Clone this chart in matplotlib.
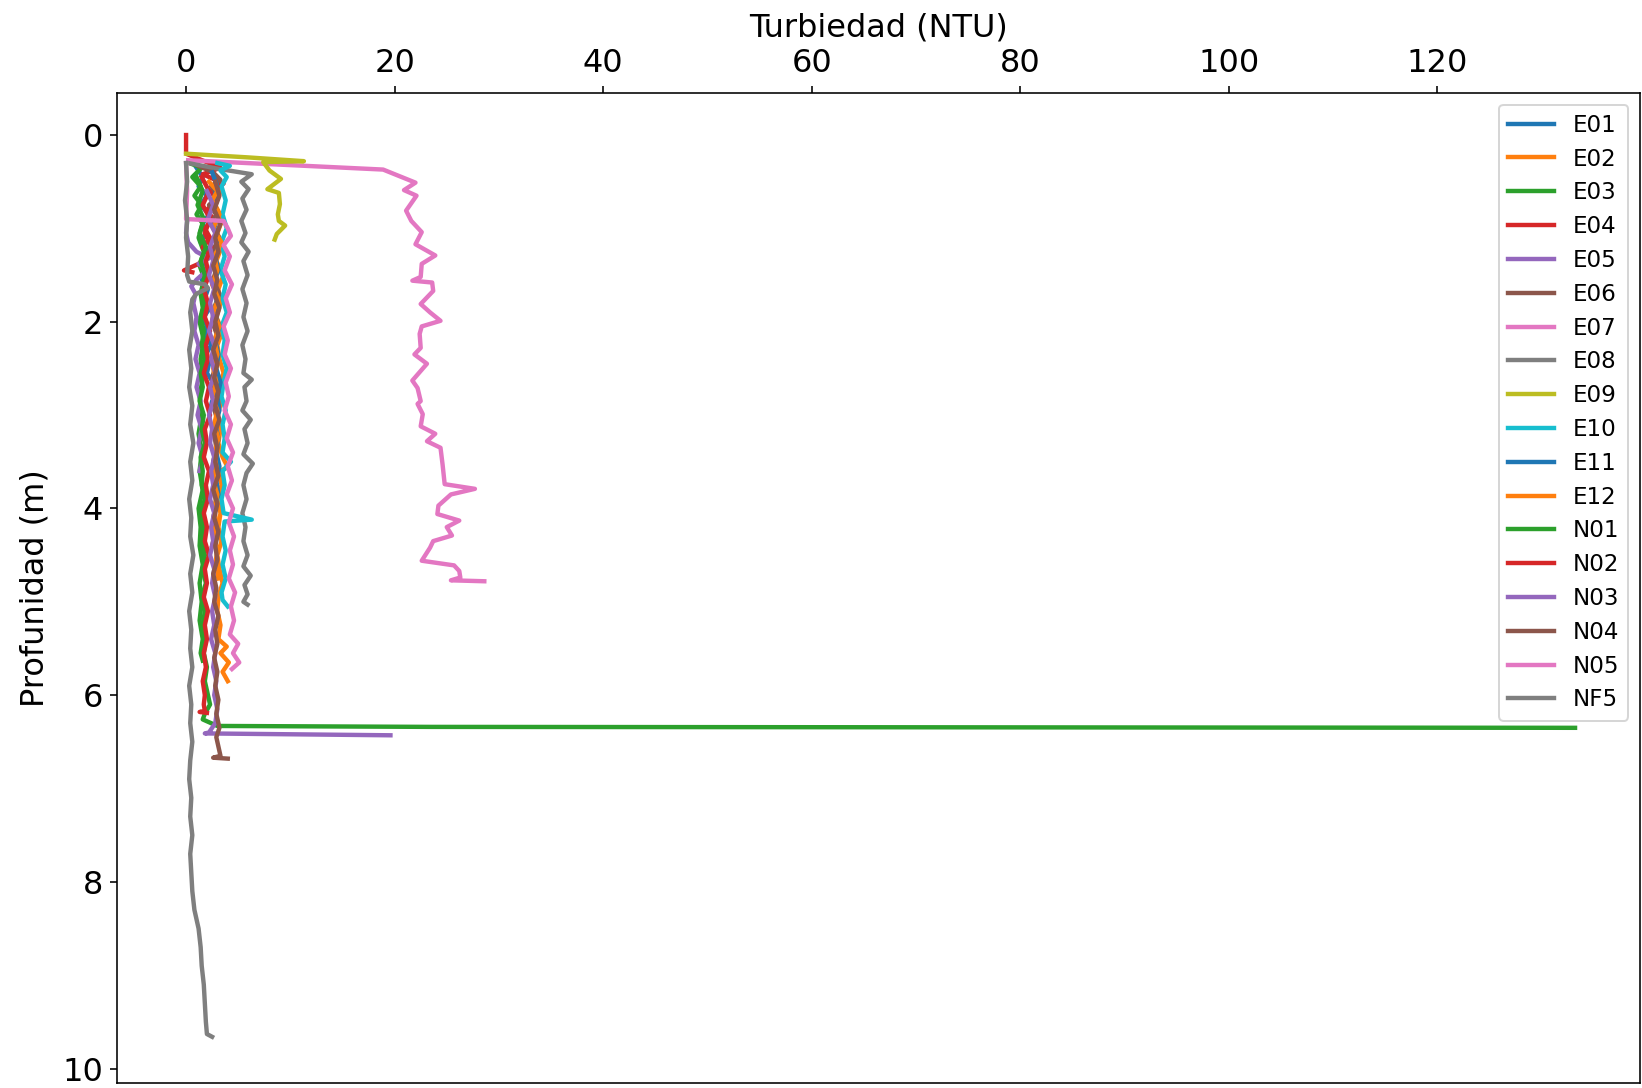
from __future__ import annotations

import matplotlib

matplotlib.use("Agg")

import matplotlib.pyplot as plt


# (profundidad m, turbiedad NTU)
E01 = [(0.35, 1.0), (0.45, 1.6), (0.55, 1.2), (0.65, 2.0), (0.75, 1.4), (0.85, 2.2), (0.95, 1.6),
       (1.05, 1.9), (1.15, 1.4), (1.25, 2.3), (1.35, 1.7), (1.45, 2.0), (1.55, 1.5), (1.65, 2.1),
       (1.75, 1.8), (1.85, 2.3), (1.95, 1.7), (2.05, 2.0), (2.15, 1.8), (2.25, 2.4), (2.35, 1.9),
       (2.45, 2.2), (2.55, 2.0), (2.65, 2.6), (2.75, 3.3), (2.85, 2.5), (2.95, 2.3)]
E02 = [(0.45, 2.9), (0.6, 3.3), (0.75, 2.8), (0.9, 3.5), (1.05, 3.0), (1.2, 3.4), (1.35, 2.9),
       (1.5, 3.6), (1.65, 3.1), (1.8, 3.3), (1.95, 2.9), (2.1, 3.5), (2.25, 3.0), (2.4, 3.2),
       (2.55, 3.6), (2.7, 3.1), (2.85, 3.4), (3.0, 3.0), (3.15, 3.3), (3.3, 3.1), (3.45, 3.5),
       (3.56, 4.0), (3.6, 3.2), (3.75, 3.4), (3.9, 3.0), (4.05, 3.3), (4.2, 3.1), (4.35, 3.4),
       (4.5, 3.0), (4.65, 3.2), (4.8, 3.5), (4.95, 3.1), (5.1, 3.0), (5.25, 3.3), (5.4, 3.1),
       (5.48, 3.9), (5.55, 3.3), (5.65, 4.1), (5.75, 3.5), (5.85, 4.0)]
E03 = [(0.30, 0.3), (0.35, 1.5), (0.45, 0.6), (0.55, 1.4), (0.65, 0.8), (0.75, 1.5), (0.85, 1.0),
       (0.95, 1.6), (1.1, 1.2), (1.25, 1.7), (1.4, 1.3), (1.55, 1.8), (1.7, 1.4), (1.85, 1.6),
       (2.0, 1.3), (2.2, 1.7), (2.4, 1.4), (2.6, 1.6), (2.8, 1.3), (3.0, 1.5), (3.2, 1.2),
       (3.4, 1.5), (3.6, 1.3), (3.8, 1.6), (4.0, 1.2), (4.2, 1.4), (4.4, 1.3), (4.6, 1.6),
       (4.8, 1.3), (5.0, 1.5), (5.2, 1.3), (5.4, 1.6), (5.55, 1.4), (5.63, 1.6)]
E04 = [(0.0, 0.0), (0.2, 0.0), (0.35, 3.3), (0.42, 1.6), (0.52, 3.6), (0.6, 2.4), (0.7, 2.9),
       (0.8, 2.0), (0.9, 2.6), (1.0, 1.8), (1.1, 2.3), (1.2, 1.6), (1.3, 2.0), (1.38, 1.2),
       (1.45, -0.2), (1.47, 0.6)]
E05 = [(0.93, 0.1), (1.05, 0.0), (1.15, 0.2), (1.25, 1.0), (1.32, 2.2), (1.38, 1.2), (1.45, 2.0),
       (1.55, 1.0), (1.62, 0.5), (1.7, 0.9), (1.8, 0.7), (1.95, 1.0), (2.1, 0.8), (2.25, 1.2),
       (2.4, 0.9), (2.55, 1.3), (2.7, 1.0), (2.85, 1.4), (3.0, 1.1), (3.15, 1.5), (3.3, 1.2),
       (3.45, 1.6), (3.6, 1.3)]
E06 = [(0.33, 1.2), (0.4, 2.6), (0.48, 3.3), (0.55, 2.4), (0.65, 3.1), (0.75, 2.2), (0.85, 2.9),
       (0.95, 2.4), (1.1, 3.2), (1.25, 2.5), (1.4, 3.0), (1.55, 2.6), (1.7, 3.2), (1.85, 2.7),
       (2.0, 2.5), (2.15, 3.0), (2.3, 2.6), (2.45, 2.9), (2.6, 2.5), (2.75, 2.8), (2.9, 2.6),
       (3.05, 3.0), (3.2, 2.7), (3.35, 2.9), (3.5, 2.6), (3.65, 3.0), (3.8, 2.7), (3.95, 2.9),
       (4.1, 2.6), (4.25, 2.8), (4.4, 2.5)]
E07 = [(0.27, 0.2), (0.37, 18.9), (0.51, 22.0), (0.59, 20.9), (0.65, 22.1), (0.81, 21.1),
       (0.92, 21.6), (1.04, 22.6), (1.17, 22.0), (1.29, 23.9), (1.38, 22.6), (1.52, 22.5),
       (1.56, 21.7), (1.58, 23.6), (1.67, 23.7), (1.81, 22.5), (1.90, 23.4), (1.99, 24.4),
       (2.05, 22.6), (2.13, 22.4), (2.28, 22.5), (2.35, 21.9), (2.45, 23.1), (2.63, 21.7),
       (2.71, 22.2), (2.85, 22.5), (2.88, 22.2), (2.99, 22.7), (3.12, 22.5), (3.20, 23.9),
       (3.28, 23.1), (3.35, 24.4), (3.53, 24.6), (3.74, 24.8), (3.79, 27.7), (3.85, 25.4),
       (3.97, 24.2), (4.06, 24.1), (4.13, 26.2), (4.20, 25.0), (4.29, 25.5), (4.35, 23.7),
       (4.42, 23.4), (4.56, 22.6), (4.61, 25.7), (4.67, 26.2), (4.74, 26.3), (4.77, 25.4),
       (4.78, 28.6)]
E08 = [(0.30, 0.2), (0.36, 3.0), (0.42, 6.3), (0.5, 5.3), (0.58, 6.0), (0.68, 5.4), (0.8, 5.8),
       (0.92, 5.3), (1.05, 5.7), (1.15, 5.3), (1.25, 6.0), (1.35, 5.5), (1.5, 5.9), (1.65, 5.4),
       (1.8, 5.8), (1.95, 5.5), (2.1, 5.9), (2.25, 5.4), (2.4, 5.7), (2.55, 5.5), (2.62, 6.3),
       (2.7, 5.6), (2.85, 5.8), (2.95, 5.4), (3.05, 6.2), (3.15, 5.6), (3.3, 5.9), (3.42, 5.5),
       (3.52, 6.4), (3.62, 5.8), (3.75, 5.5), (3.9, 5.8), (4.05, 5.4), (4.2, 5.7), (4.35, 5.5),
       (4.5, 5.9), (4.62, 5.5), (4.72, 6.2), (4.82, 5.6), (4.92, 5.9), (5.0, 5.5), (5.03, 5.9)]
E09 = [(0.2, 0.0), (0.24, 6.0), (0.28, 11.3), (0.29, 7.4), (0.38, 8.0), (0.47, 9.1), (0.58, 7.8),
       (0.62, 8.9), (0.74, 9.0), (0.85, 8.8), (0.92, 8.9), (0.97, 9.5), (1.06, 8.7), (1.12, 8.5)]
E10 = [(0.3, 3.0), (0.33, 4.2), (0.38, 3.3), (0.45, 3.9), (0.55, 3.4), (0.7, 3.8), (0.85, 3.5),
       (1.0, 3.9), (1.15, 3.4), (1.3, 3.7), (1.45, 3.3), (1.6, 3.8), (1.75, 3.5), (1.9, 3.9),
       (2.05, 3.4), (2.2, 3.7), (2.35, 3.5), (2.5, 3.9), (2.65, 3.6), (2.8, 3.4), (2.95, 3.8),
       (3.1, 3.5), (3.25, 3.7), (3.4, 3.5), (3.5, 4.3), (3.6, 3.5), (3.75, 3.7), (3.9, 3.4),
       (4.05, 3.6), (4.12, 6.3), (4.14, 3.7), (4.3, 3.5), (4.45, 3.8), (4.6, 3.5), (4.75, 3.8),
       (4.9, 3.4), (4.98, 3.5), (5.05, 4.0)]
E11 = [(0.4, 2.5), (0.55, 3.0), (0.7, 2.6), (0.85, 3.1), (1.0, 2.7), (1.15, 3.2), (1.3, 2.8),
       (1.45, 3.1), (1.6, 2.6), (1.75, 3.0), (1.9, 2.7), (2.05, 3.2), (2.2, 2.8), (2.35, 3.1),
       (2.5, 2.9), (2.65, 3.3), (2.8, 3.0), (2.95, 3.2), (3.1, 2.8), (3.25, 3.1), (3.4, 2.9),
       (3.55, 3.2), (3.7, 2.9), (3.85, 3.1), (3.95, 2.8)]
E12 = [(0.5, 2.2), (0.6, 3.0), (0.7, 2.5), (0.85, 3.2), (1.0, 2.6), (1.15, 3.4), (1.3, 2.7),
       (1.45, 3.0), (1.6, 2.5), (1.75, 3.1), (1.9, 2.6), (2.05, 3.2), (2.2, 2.7), (2.35, 3.0),
       (2.5, 2.6), (2.65, 2.9), (2.8, 2.5), (2.95, 3.0), (3.1, 2.7), (3.25, 3.1), (3.4, 2.7),
       (3.55, 2.9), (3.7, 2.6), (3.85, 3.0), (4.0, 2.7), (4.15, 2.9), (4.3, 2.6), (4.45, 3.0),
       (4.6, 2.8), (4.75, 3.1)]
N01 = [(0.45, 1.0), (0.6, 1.6), (0.75, 1.1), (0.9, 1.7), (1.05, 1.3), (1.2, 1.9), (1.35, 1.4),
       (1.5, 1.8), (1.65, 1.5), (1.8, 1.9), (1.95, 1.4), (2.1, 1.7), (2.25, 1.5), (2.4, 1.8),
       (2.55, 1.4), (2.7, 1.6), (2.85, 1.3), (3.0, 1.7), (3.15, 1.5), (3.3, 1.8), (3.45, 1.4),
       (3.6, 1.6), (3.75, 1.5), (3.9, 1.8), (4.05, 1.4), (4.2, 1.7), (4.35, 1.5), (4.5, 1.8),
       (4.65, 1.6), (4.8, 1.9), (4.95, 1.5), (5.1, 1.8), (5.25, 1.6), (5.4, 1.9), (5.55, 1.7),
       (5.7, 2.0), (5.85, 1.8), (6.0, 2.1), (6.1, 2.3), (6.2, 1.8), (6.26, 1.6), (6.3, 2.4),
       (6.33, 3.0), (6.34, 23.5), (6.35, 133.2)]
N02 = [(0.45, 1.5), (0.6, 2.2), (0.75, 1.6), (0.9, 2.3), (1.05, 1.8), (1.2, 2.4), (1.35, 1.9),
       (1.5, 2.2), (1.65, 1.7), (1.8, 2.1), (1.95, 1.8), (2.1, 2.3), (2.25, 1.9), (2.4, 2.1),
       (2.55, 1.7), (2.7, 2.2), (2.85, 1.9), (3.0, 2.3), (3.15, 1.8), (3.3, 2.0), (3.45, 1.7),
       (3.6, 2.2), (3.75, 1.9), (3.9, 2.1), (4.05, 1.7), (4.2, 2.0), (4.35, 1.8), (4.5, 2.2),
       (4.65, 1.8), (4.8, 2.0), (4.95, 1.7), (5.1, 2.1), (5.25, 1.8), (5.4, 2.0), (5.55, 1.7),
       (5.7, 1.9), (5.85, 1.6), (6.0, 1.8), (6.1, 1.7), (6.17, 1.8), (6.18, 1.3), (6.19, 2.0)]
N03 = [(0.6, 2.0), (0.75, 2.6), (0.9, 2.1), (1.05, 2.8), (1.2, 2.3), (1.35, 2.6), (1.5, 2.2),
       (1.65, 2.7), (1.8, 2.3), (1.95, 2.6), (2.1, 2.2), (2.25, 2.7), (2.4, 2.4), (2.55, 2.8),
       (2.7, 2.3), (2.85, 2.6), (3.0, 2.2), (3.15, 2.5), (3.3, 2.3), (3.45, 2.7), (3.6, 2.4),
       (3.75, 2.6), (3.9, 2.3), (4.05, 2.7), (4.2, 2.4), (4.35, 2.6), (4.5, 2.3), (4.65, 2.7),
       (4.8, 2.5), (4.95, 2.8), (5.1, 2.5), (5.25, 2.7), (5.4, 2.4), (5.55, 2.8), (5.7, 2.6),
       (5.85, 2.9), (6.0, 2.7), (6.15, 3.0), (6.3, 2.8), (6.4, 2.2), (6.41, 1.8), (6.43, 19.6)]
N04 = [(0.5, 2.8), (0.65, 3.2), (0.8, 2.7), (0.95, 3.3), (1.1, 2.8), (1.25, 3.1), (1.4, 2.6),
       (1.55, 3.0), (1.7, 2.7), (1.85, 3.2), (2.0, 2.8), (2.15, 3.1), (2.3, 2.6), (2.45, 3.0),
       (2.6, 2.7), (2.75, 3.1), (2.9, 2.8), (3.05, 3.2), (3.2, 2.7), (3.35, 3.0), (3.5, 2.8),
       (3.65, 3.1), (3.8, 2.6), (3.95, 3.0), (4.1, 2.7), (4.25, 3.1), (4.4, 2.8), (4.55, 3.0),
       (4.7, 2.6), (4.85, 2.9), (5.0, 2.7), (5.15, 3.1), (5.3, 2.8), (5.45, 3.0), (5.6, 2.7),
       (5.75, 3.0), (5.9, 2.8), (6.05, 3.1), (6.2, 2.9), (6.35, 3.2), (6.45, 2.9), (6.55, 3.1),
       (6.65, 3.3), (6.67, 2.6), (6.68, 4.0)]
N05 = [(0.3, 0.0), (0.6, 0.1), (0.9, 0.0), (0.92, 3.6), (1.0, 4.0), (1.08, 4.3), (1.18, 3.6),
       (1.3, 4.2), (1.45, 3.7), (1.6, 4.4), (1.75, 3.8), (1.9, 4.2), (2.05, 3.6), (2.2, 4.0),
       (2.35, 3.7), (2.5, 4.3), (2.65, 3.8), (2.8, 4.1), (2.95, 3.7), (3.1, 4.3), (3.25, 3.9),
       (3.4, 4.5), (3.55, 4.0), (3.7, 4.4), (3.85, 3.9), (4.0, 4.5), (4.15, 4.1), (4.3, 4.6),
       (4.45, 4.2), (4.6, 4.5), (4.75, 4.1), (4.9, 4.7), (5.05, 4.3), (5.2, 4.6), (5.35, 4.2),
       (5.45, 5.0), (5.55, 4.5), (5.65, 5.1), (5.72, 4.4)]
NF5 = [(0.3, 0.0), (0.5, 0.1), (0.7, -0.1), (0.9, 0.1), (1.1, 0.0), (1.3, 0.2), (1.5, 0.1),
       (1.57, 0.3), (1.6, 1.8), (1.64, 2.1), (1.7, 1.0), (1.76, 0.6), (1.9, 0.4), (2.1, 0.6),
       (2.3, 0.3), (2.5, 0.5), (2.7, 0.3), (2.9, 0.6), (3.1, 0.4), (3.3, 0.7), (3.5, 0.4),
       (3.7, 0.6), (3.9, 0.3), (4.1, 0.5), (4.3, 0.4), (4.5, 0.7), (4.7, 0.4), (4.9, 0.6),
       (5.1, 0.3), (5.3, 0.5), (5.5, 0.4), (5.7, 0.6), (5.9, 0.3), (6.1, 0.5), (6.3, 0.4),
       (6.5, 0.6), (6.7, 0.4), (6.9, 0.3), (7.1, 0.5), (7.3, 0.4), (7.5, 0.6), (7.7, 0.4),
       (7.9, 0.5), (8.1, 0.6), (8.3, 0.8), (8.5, 1.2), (8.7, 1.4), (8.9, 1.5), (9.1, 1.7),
       (9.3, 1.8), (9.5, 1.9), (9.63, 2.0), (9.66, 2.5)]

STATIONS = ["E01", "E02", "E03", "E04", "E05", "E06", "E07", "E08", "E09", "E10",
            "E11", "E12", "N01", "N02", "N03", "N04", "N05", "NF5"]
PROFILES = [E01, E02, E03, E04, E05, E06, E07, E08, E09, E10,
            E11, E12, N01, N02, N03, N04, N05, NF5]


def plot_profiles() -> None:
    fig = plt.figure(figsize=(1642 / 144, 1088 / 144), dpi=144)
    ax = fig.add_axes([0.0714, 0.005, 0.9272, 0.9095])

    for name, profile in zip(STATIONS, PROFILES):
        depth = [p[0] for p in profile]
        ntu = [p[1] for p in profile]
        ax.plot(ntu, depth, linewidth=2.2, label=name)

    ax.set_xlim(-6.6, 139.4)
    ax.set_ylim(10.15, -0.45)
    ax.xaxis.tick_top()
    ax.xaxis.set_label_position("top")
    ax.set_xlabel("Turbiedad (NTU)", fontsize=16, labelpad=6)
    ax.set_ylabel("Profunidad (m)", fontsize=16, labelpad=6)
    ax.tick_params(labelsize=16)
    ax.legend(loc="upper right", fontsize=11.5, labelspacing=0.47)

    fig.savefig("out.png", dpi=144)
    plt.close(fig)


def main() -> None:
    plot_profiles()


if __name__ == "__main__":
    main()
